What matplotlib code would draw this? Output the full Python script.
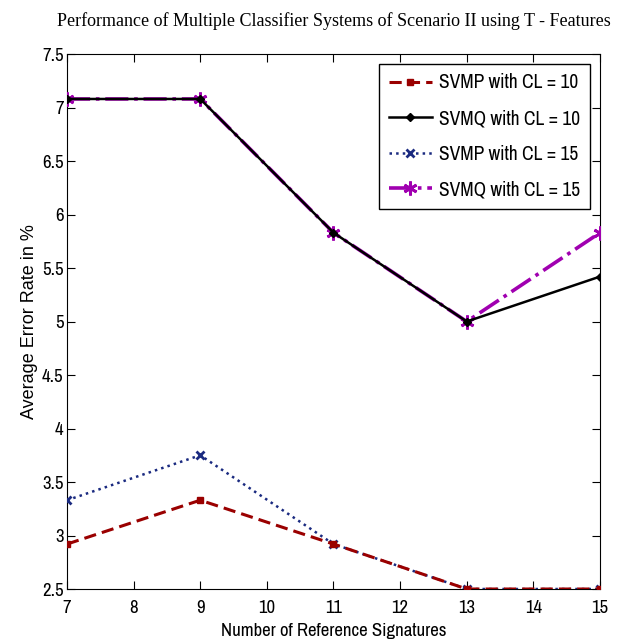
import matplotlib
matplotlib.use('Agg')
import matplotlib.pyplot as plt
from matplotlib import font_manager

# Daten aus der Abbildung
refs = [7, 9, 11, 13, 15]
svmp_cl10 = [2.92, 3.33, 2.92, 2.50, 2.50]
svmq_cl10 = [7.08, 7.08, 5.83, 5.00, 5.42]
svmp_cl15 = [3.33, 3.75, 2.92, 2.50, 2.50]
svmq_cl15 = [7.08, 7.08, 5.83, 5.00, 5.83]

# schmale Schrift wie im Original (Arial Narrow), sonst Liberation Sans
names = {f.name for f in font_manager.fontManager.ttflist}
narrow = 'Liberation Sans'
for cand in ['Liberation Sans Narrow', 'Arial Narrow', 'Archivo Narrow', 'PT Sans Narrow',
             'Roboto Condensed', 'Pragati Narrow']:
    if cand in names:
        narrow = cand
        break
is_narrow = narrow != 'Liberation Sans'
plt.rcParams['font.family'] = [narrow, 'DejaVu Sans']

tick_fs = 13.5 if is_narrow else 11.5
xlab_fs = 13.5 if is_narrow else 11
leg_fs = 14 if is_narrow else 12

fig = plt.figure(figsize=(6.29, 6.44), dpi=100)
ax = fig.add_axes([0.1065, 0.0854, 0.8474, 0.8307])

asterisk = (6, 2, 0)
ax.plot(refs, svmp_cl10, color='#9a0000', ls='--', lw=2.2, marker='s', ms=5, dashes=(4, 2),
        label='SVMP with CL = 10', zorder=4)
ax.plot(refs, svmq_cl10, color='black', ls='-', lw=1.8, marker='D', ms=4,
        label='SVMQ with CL = 10', zorder=4)
ax.plot(refs, svmp_cl15, color='#1a2a80', ls=':', lw=1.8, marker='x', ms=6, mew=2,
        label='SVMP with CL = 15', zorder=3)
ax.plot(refs, svmq_cl15, color='#a000b0', ls='-.', lw=2.6, marker=asterisk, ms=10, mew=2,
        label='SVMQ with CL = 15', zorder=3)

ax.set_xlim(7, 15)
ax.set_ylim(2.5, 7.5)
ax.set_xticks(range(7, 16))
ax.set_yticks([2.5, 3, 3.5, 4, 4.5, 5, 5.5, 6, 6.5, 7, 7.5])
ax.set_yticklabels(['2.5', '3', '3.5', '4', '4.5', '5', '5.5', '6', '6.5', '7', '7.5'])
ax.tick_params(direction='in', top=True, right=True, length=6, labelsize=tick_fs)
ax.tick_params(axis='x', pad=8)
ax.tick_params(axis='y', pad=2.5)

ax.set_xlabel('Number of Reference Signatures', fontsize=xlab_fs, labelpad=5)
ax.set_ylabel('Average Error Rate in %', family='Liberation Sans', fontsize=13, labelpad=3)
ax.set_title('Performance of Multiple Classifier Systems of Scenario II using T - Features',
             family='Liberation Serif', fontsize=13, pad=20)

leg = ax.legend(loc='upper right', fontsize=leg_fs, fancybox=False, edgecolor='black',
                framealpha=1, borderaxespad=0.5, handlelength=2.2, labelspacing=0.85,
                borderpad=0.5, handletextpad=0.4)
leg.get_frame().set_linewidth(1)

fig.savefig('out.png', dpi=100)
